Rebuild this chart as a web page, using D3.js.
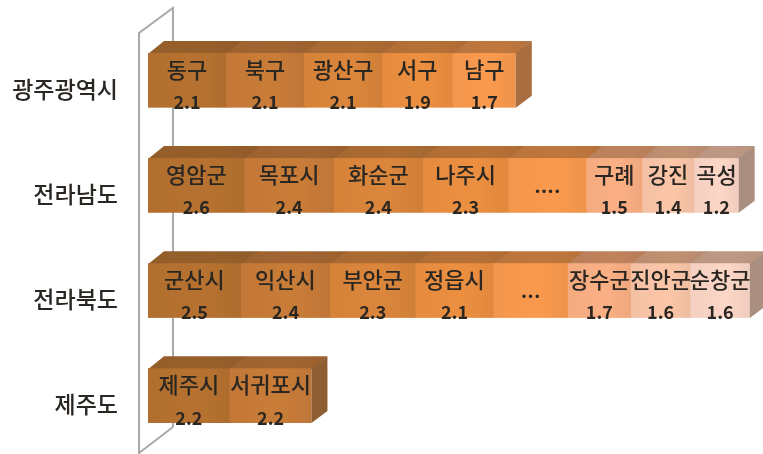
<!DOCTYPE html>
<html>
<head>
<meta charset="utf-8">
<script src="https://cdn.jsdelivr.net/npm/d3@7/dist/d3.min.js"></script>
<style>
  html, body { margin: 0; padding: 0; background: #fff; }
  text { font-family: "Noto Sans CJK KR", "Noto Sans", sans-serif; fill: #2b2622; }
</style>
</head>
<body>
<div id="chart"></div>
<script>
// values, the "...." groups are estimated from their width
const regions = ['광주광역시', '전라남도', '전라북도', '제주도'];
const gwangjuNames = ['동구', '북구', '광산구', '서구', '남구'];
const gwangjuValues = [2.1, 2.1, 2.1, 1.9, 1.7];
const jeonnamNames = ['영암군', '목포시', '화순군', '나주시', '....', '구례', '강진', '곡성'];
const jeonnamValues = [2.6, 2.4, 2.4, 2.3, 2.1, 1.5, 1.4, 1.2];
const jeonbukNames = ['군산시', '익산시', '부안군', '정읍시', '...', '장수군', '진안군', '순창군'];
const jeonbukValues = [2.5, 2.4, 2.3, 2.1, 2.0, 1.7, 1.6, 1.6];
const jejuNames = ['제주시', '서귀포시'];
const jejuValues = [2.2, 2.2];

const hiddenValue = ['....', '...'];
const shades = ['#b4702f', '#c67a38', '#d8843a', '#e98d3f', '#f6984e', '#f7ad82', '#f8c3a6', '#f8d3c4'];

const width = 763, height = 454;
const depthX = 16, depthY = 12;

const rows = [
  { region: regions[0], names: gwangjuNames, values: gwangjuValues },
  { region: regions[1], names: jeonnamNames, values: jeonnamValues },
  { region: regions[2], names: jeonbukNames, values: jeonbukValues },
  { region: regions[3], names: jejuNames, values: jejuValues }
];

const x = d3.scaleLinear().domain([0, 16.4]).range([148, 148 + 16.4 * 37.15]);
const y = d3.scaleBand().domain(regions).range([53, 423]).paddingInner(0.48).paddingOuter(0);

const svg = d3.select('#chart').append('svg')
  .attr('width', width)
  .attr('height', height)
  .style('display', 'block');
const defs = svg.append('defs');

defs.append('filter').attr('id', 'soft')
  .append('feGaussianBlur').attr('stdDeviation', 0.7);
defs.append('filter').attr('id', 'softText')
  .append('feGaussianBlur').attr('stdDeviation', 0.3);

function gradient(id, c) {
  const g = defs.append('linearGradient').attr('id', id);
  g.append('stop').attr('offset', '0%').attr('stop-color', d3.color(c).darker(0.04));
  g.append('stop').attr('offset', '60%').attr('stop-color', d3.color(c).brighter(0.04));
  g.append('stop').attr('offset', '100%').attr('stop-color', d3.color(c).darker(0.1));
}
shades.forEach(function(c, i) {
  gradient('front' + i, c);
  gradient('top' + i, d3.interpolateRgb(c, '#6b4526')(0.42));
});

// the back wall of the 3d chart sits behind the bars
const wall = d3.line();
svg.append('path')
  .attr('d', wall([[173, 427], [173, 8], [139, 33], [139, 453], [173, 427]]))
  .attr('fill', 'none')
  .attr('stroke', '#a9a9a9')
  .attr('stroke-width', 2);

const bars = svg.append('g').attr('filter', 'url(#soft)');
const texts = svg.append('g').attr('filter', 'url(#softText)');

rows.forEach(function(row) {
  const h = y.bandwidth();
  const y0 = y(row.region);
  const g = bars.append('g');
  let sum = 0;
  const segs = row.values.map(function(v, i) {
    const s = { name: row.names[i], value: v, start: sum, end: sum + v, idx: i };
    sum += v;
    return s;
  });

  // small overlap so the seams between neighbours do not show white
  g.selectAll('path.top').data(segs).join('path')
    .attr('class', 'top')
    .attr('d', function(d) {
      const x1 = d.idx === segs.length - 1 ? x(d.end) : x(d.end) + 1;
      return wall([[x(d.start), y0 + 1], [x(d.start) + depthX, y0 - depthY], [x1 + depthX, y0 - depthY], [x1, y0 + 1]]) + 'Z';
    })
    .attr('fill', function(d) { return 'url(#top' + d.idx + ')'; });

  g.selectAll('rect.front').data(segs).join('rect')
    .attr('class', 'front')
    .attr('x', function(d) { return x(d.start); })
    .attr('y', y0)
    .attr('width', function(d) { return x(d.end) - x(d.start) + (d.idx === segs.length - 1 ? 0 : 1); })
    .attr('height', h)
    .attr('fill', function(d) { return 'url(#front' + d.idx + ')'; });

  const last = segs[segs.length - 1];
  g.append('path')
    .attr('d', wall([[x(sum), y0], [x(sum) + depthX, y0 - depthY], [x(sum) + depthX, y0 + h - depthY], [x(sum), y0 + h]]) + 'Z')
    .attr('fill', d3.interpolateRgb(shades[last.idx], '#4a3a2c')(0.45));

  const labels = texts.append('g').attr('text-anchor', 'middle');
  labels.selectAll('text.name').data(segs).join('text')
    .attr('class', 'name')
    .attr('x', function(d) { return (x(d.start) + x(d.end)) / 2; })
    .attr('y', function(d) { return hiddenValue.includes(d.name) ? y0 + 35 : y0 + 25; })
    .attr('font-size', 22)
    .attr('font-weight', 500)
    .text(function(d) { return d.name; });
  labels.selectAll('text.value').data(segs.filter(function(d) { return !hiddenValue.includes(d.name); })).join('text')
    .attr('class', 'value')
    .attr('x', function(d) { return (x(d.start) + x(d.end)) / 2; })
    .attr('y', y0 + h + 1.5)
    .attr('font-size', 18)
    .attr('font-weight', 700)
    .text(function(d) { return d.value.toFixed(1); });
});

// region names, axis line itself is not shown
const axis = texts.append('g')
  .attr('transform', 'translate(118,10)')
  .call(d3.axisLeft(y).tickSize(0).tickPadding(0));
axis.select('.domain').remove();
axis.selectAll('text')
  .attr('font-size', 23)
  .attr('font-weight', 500)
  .style('font-family', '"Noto Sans CJK KR", sans-serif')
  .style('fill', '#2b2622');
</script>
</body>
</html>
